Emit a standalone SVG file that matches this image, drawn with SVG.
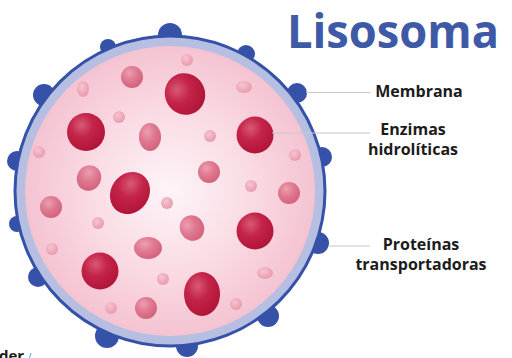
<svg xmlns="http://www.w3.org/2000/svg" width="512" height="358" viewBox="0 0 512 358">
  <defs>
    <radialGradient id="cytosol" cx="0.5" cy="0.5" r="0.5">
      <stop offset="0" stop-color="#fdf5f8"/>
      <stop offset="0.55" stop-color="#fadbe4"/>
      <stop offset="1" stop-color="#f4c3d1"/>
    </radialGradient>
    <radialGradient id="bigSphere" cx="0.38" cy="0.32" r="0.7">
      <stop offset="0" stop-color="#d85a75"/>
      <stop offset="0.45" stop-color="#c42449"/>
      <stop offset="1" stop-color="#b01538"/>
    </radialGradient>
    <radialGradient id="midSphere" cx="0.38" cy="0.32" r="0.7">
      <stop offset="0" stop-color="#ec9fb0"/>
      <stop offset="0.5" stop-color="#df7890"/>
      <stop offset="1" stop-color="#d3627d"/>
    </radialGradient>
    <radialGradient id="smallSphere" cx="0.4" cy="0.35" r="0.7">
      <stop offset="0" stop-color="#f5c4cf"/>
      <stop offset="1" stop-color="#e898ab"/>
    </radialGradient>
    <style>
      .bump { fill: #3652a8; }
      .big { fill: url(#bigSphere); }
      .mid { fill: url(#midSphere); }
      .small { fill: url(#smallSphere); }
      .leader { stroke: #c8c8cc; stroke-width: 1.2; fill: none; }
      .label { font-family: "Open Sans", "Liberation Sans", sans-serif; font-weight: 700; font-size: 16px; fill: #1c1c1c; text-anchor: middle; }
      .title { font-family: "Open Sans", "Liberation Sans", sans-serif; font-weight: 700; font-size: 46px; fill: #3e5aa7; }
    </style>
  </defs>

  <rect width="512" height="358" fill="#ffffff"/>

  <!-- Lysosome body -->
  <g id="lisosoma">
    <!-- transport proteins sitting on the membrane -->
    <g id="proteinas">
      <circle class="bump" cx="170" cy="35" r="12"/>
      <circle class="bump" cx="108" cy="47" r="8"/>
      <circle class="bump" cx="44" cy="95" r="11"/>
      <circle class="bump" cx="17" cy="161" r="10"/>
      <circle class="bump" cx="17" cy="224" r="8"/>
      <circle class="bump" cx="38" cy="277" r="10"/>
      <circle class="bump" cx="107" cy="336" r="12"/>
      <circle class="bump" cx="187" cy="346" r="11"/>
      <circle class="bump" cx="268" cy="316" r="11"/>
      <circle class="bump" cx="318" cy="243" r="11"/>
      <circle class="bump" cx="322" cy="157" r="10"/>
      <circle class="bump" cx="297" cy="93" r="10"/>
      <circle class="bump" cx="246" cy="54" r="9"/>
    </g>
    <!-- membrane -->
    <g id="membrana">
      <circle cx="170" cy="191" r="155" fill="#b6bfe2" stroke="#3652a8" stroke-width="3"/>
      <circle cx="170" cy="191" r="145" fill="url(#cytosol)"/>
    </g>
    <!-- hydrolytic enzymes -->
    <g id="enzimas">
      <ellipse class="big" cx="185" cy="94" rx="20" ry="21" transform="rotate(-30 185 94)"/>
      <circle class="big" cx="86" cy="132" r="19"/>
      <circle class="big" cx="255" cy="135" r="18.5"/>
      <ellipse class="big" cx="130" cy="193" rx="19" ry="22" transform="rotate(35 130 193)"/>
      <circle class="big" cx="255" cy="231" r="18.5"/>
      <circle class="big" cx="100" cy="271" r="18.5"/>
      <ellipse class="big" cx="202" cy="294" rx="18" ry="22"/>

      <circle class="mid" cx="132" cy="77" r="11"/>
      <ellipse class="mid" cx="150" cy="137" rx="11" ry="14"/>
      <ellipse class="mid" cx="89" cy="178" rx="12" ry="13" transform="rotate(30 89 178)"/>
      <circle class="mid" cx="209" cy="172" r="11"/>
      <circle class="mid" cx="51" cy="207" r="11"/>
      <circle class="mid" cx="289" cy="193" r="11"/>
      <ellipse class="mid" cx="192" cy="228" rx="12" ry="13" transform="rotate(-30 192 228)"/>
      <ellipse class="mid" cx="148" cy="248" rx="14" ry="11"/>
      <circle class="mid" cx="146" cy="308" r="11"/>

      <circle class="small" cx="187" cy="60" r="6"/>
      <ellipse class="small" cx="83" cy="89" rx="6" ry="8"/>
      <ellipse class="small" cx="244" cy="87" rx="8" ry="6"/>
      <circle class="small" cx="119" cy="117" r="6"/>
      <circle class="small" cx="210" cy="136" r="6"/>
      <circle class="small" cx="39" cy="152" r="6"/>
      <circle class="small" cx="295" cy="155" r="6"/>
      <circle class="small" cx="251" cy="186" r="6"/>
      <circle class="small" cx="167" cy="203" r="6"/>
      <circle class="small" cx="98" cy="223" r="6"/>
      <circle class="small" cx="52" cy="249" r="6"/>
      <circle class="small" cx="163" cy="279" r="6"/>
      <ellipse class="small" cx="265" cy="273" rx="8" ry="6"/>
      <circle class="small" cx="111" cy="308" r="6"/>
      <circle class="small" cx="236" cy="304" r="6"/>
    </g>
  </g>

  <!-- leader lines -->
  <g id="connectors">
    <line class="leader" x1="306" y1="92.5" x2="370" y2="92.5"/>
    <line class="leader" x1="272" y1="133" x2="370" y2="133"/>
    <line class="leader" x1="328" y1="246" x2="370" y2="246"/>
  </g>

  <!-- labels -->
  <g id="titulo">
    <text class="title" x="287" y="48" textLength="212" lengthAdjust="spacingAndGlyphs">Lisosoma</text>
  </g>
  <g id="label-membrana">
    <text class="label" x="419" y="97">Membrana</text>
  </g>
  <g id="label-enzimas">
    <text class="label" x="413" y="135">Enzimas</text>
    <text class="label" x="413" y="154.5">hidrolíticas</text>
  </g>
  <g id="label-proteinas">
    <text class="label" x="421" y="250">Proteínas</text>
    <text class="label" x="421" y="269.5">transportadoras</text>
  </g>

  <!-- footer mark, cropped at the bottom edge -->
  <g id="footer">
    <text x="-1" y="361" font-family="'Open Sans', 'Liberation Sans', sans-serif" font-weight="700" font-size="15" fill="#1c1c1c">der</text>
    <line x1="31" y1="353" x2="29.5" y2="358" stroke="#8fc3e8" stroke-width="1.5"/>
  </g>
</svg>
